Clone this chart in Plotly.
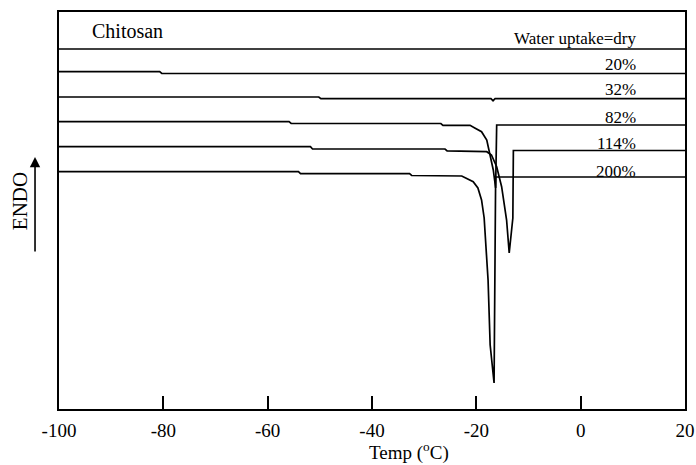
import plotly.graph_objects as go

# Temperature (°C) and heat flow (arbitrary units, ENDO up)
t_dry = [-100, 20]
h_dry = [360, 360]

t_20 = [-100, -80.7, -80.3, 20]
h_20 = [337.3, 337.3, 335.5, 335.5]

t_32 = [-100, -50.2, -49.8, -17.2, -16.8, -16.4, 20]
h_32 = [312, 312, 310.3, 310.3, 308.3, 310.3, 310.3]

t_82 = [-100, -55.9, -55.5, -26.8, -26.4, -21.2, -20.3, -19.0, -18.0, -17.4, -16.75, -16.3, -16.1, 20]
h_82 = [287.3, 287.3, 285.5, 285.5, 283.7, 283.7, 281, 277.3, 269, 256, 239, 221, 284, 284]

t_114 = [-100, -51.8, -51.4, -26.0, -25.6, -18.0, -17.1, -16.1, -15.15, -14.2, -13.7, -13.0, -12.9, 20]
h_114 = [262.3, 262.3, 260, 260, 258.2, 257.3, 254, 242.3, 222.3, 189, 156, 191, 258.5, 258.5]

t_200 = [-100, -54.1, -53.7, -32.8, -32.4, -22.8, -20.6, -19.7, -19.0, -18.5, -18.2, -17.75, -17.35, -16.95, -16.6, -16.3, 20]
h_200 = [237.3, 237.3, 235.3, 235.3, 233.5, 233, 227.3, 221, 209, 191, 166, 129, 64, 39, 26, 232, 232]

series = [
    ("dry", t_dry, h_dry),
    ("20%", t_20, h_20),
    ("32%", t_32, h_32),
    ("82%", t_82, h_82),
    ("114%", t_114, h_114),
    ("200%", t_200, h_200),
]

curve_labels = ["Water uptake=dry", "20%", "32%", "82%", "114%", "200%"]
label_levels = [371, 345, 320, 292, 266, 238]

x_ticks = [-100, -80, -60, -40, -20, 0, 20]
x_ticktext = ["-100", "-80", "-60", "-40", "-20", "0", "20"]

FONT = "Liberation Serif"

fig = go.Figure()
for name, t, h in series:
    fig.add_trace(go.Scatter(x=t, y=h, mode="lines", name=name,
                             line=dict(color="black", width=1.7),
                             showlegend=False))

for txt, lvl in zip(curve_labels, label_levels):
    fig.add_annotation(x=11.0, y=lvl, xref="x", yref="y", text=txt,
                       showarrow=False, xanchor="right", yanchor="middle",
                       font=dict(family=FONT, size=17, color="black"))

fig.add_annotation(x=0.0495, y=0.953, xref="paper", yref="paper", text="Chitosan",
                   showarrow=False, xanchor="left", yanchor="middle",
                   font=dict(family=FONT, size=20, color="black"))

fig.add_annotation(x=-0.062, y=0.524, xref="paper", yref="paper", text="ENDO",
                   textangle=-90, showarrow=False, xanchor="center", yanchor="middle",
                   font=dict(family=FONT, size=21, color="black"))

fig.add_annotation(x=-0.0383, y=0.635, xref="paper", yref="paper", text="",
                   showarrow=True, ax=0, ay=96, arrowhead=2, arrowsize=1.3,
                   arrowwidth=1.6, arrowcolor="black")

fig.add_annotation(x=0.559, y=-0.108, xref="paper", yref="paper",
                   text="Temp (<sup>o</sup>C)", showarrow=False,
                   xanchor="center", yanchor="middle",
                   font=dict(family=FONT, size=19, color="black"))

fig.update_layout(
    width=696, height=465,
    margin=dict(l=59, r=11, t=12, b=56, autoexpand=False),
    paper_bgcolor="white", plot_bgcolor="white",
    font=dict(family=FONT, color="black"),
)
fig.update_xaxes(range=[-100, 20], tickvals=x_ticks, ticktext=x_ticktext,
                 ticks="inside", ticklen=13, tickwidth=2, tickcolor="black",
                 showline=True, linecolor="black", linewidth=2, mirror=True,
                 showgrid=False, zeroline=False, ticklabelstandoff=3,
                 automargin=False,
                 tickfont=dict(family=FONT, size=19, color="black"))
fig.update_yaxes(range=[0, 397], showticklabels=False, ticks="",
                 showline=True, linecolor="black", linewidth=2, mirror=True,
                 showgrid=False, zeroline=False, automargin=False)

fig.write_html("out.html")
